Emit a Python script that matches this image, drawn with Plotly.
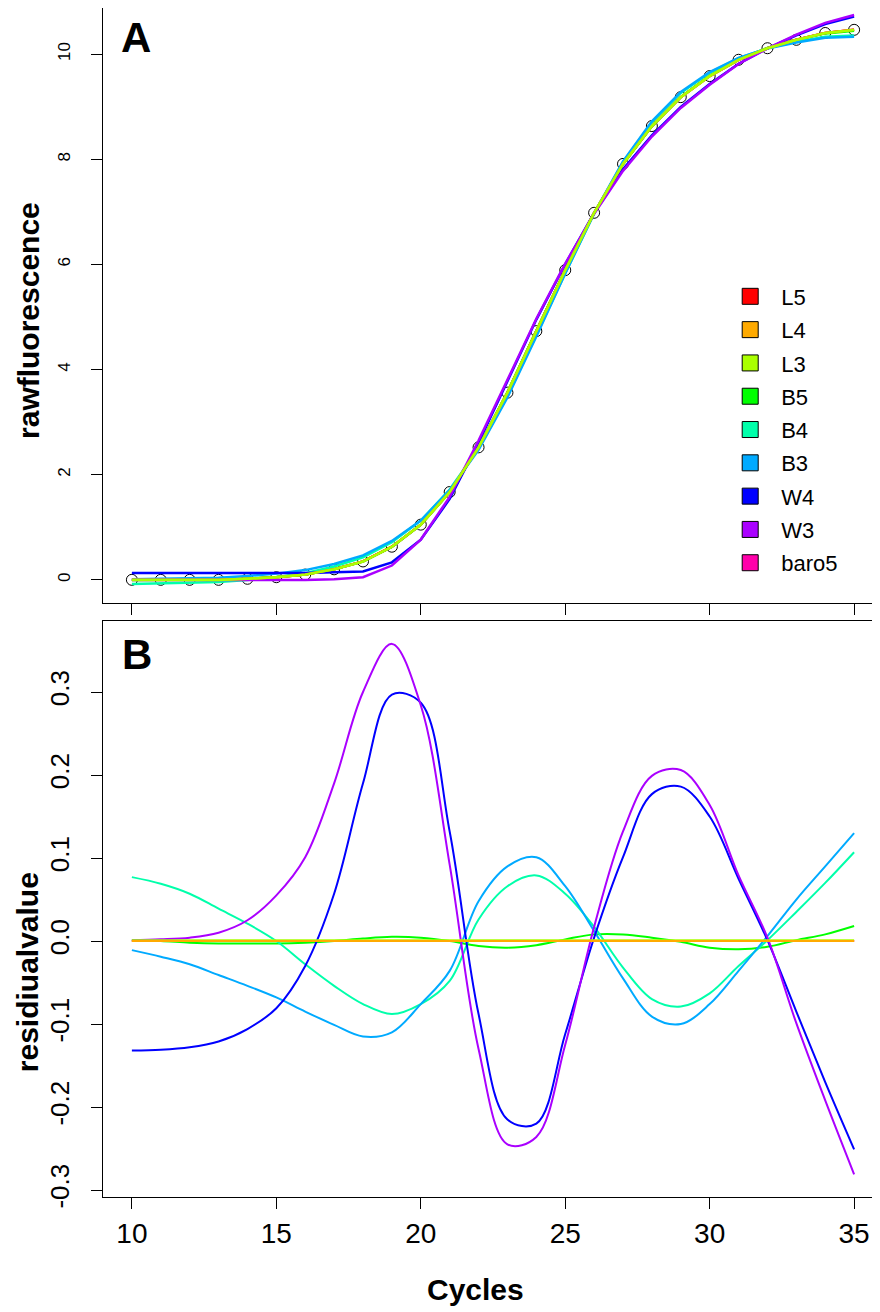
import plotly.graph_objects as go

# qPCR run: raw fluorescence per cycle and residuals of each sigmoidal model fit
cycles = list(range(10, 36))
raw_fluo = [0.00, 0.00, 0.00, 0.00, 0.02, 0.05, 0.10, 0.20, 0.35, 0.63, 1.05, 1.67, 2.52,
            3.56, 4.73, 5.89, 6.98, 7.91, 8.63, 9.18, 9.58, 9.89, 10.11, 10.27, 10.40, 10.46]

model_names = ["L5", "L4", "L3", "B5", "B4", "B3", "W4", "W3", "baro5"]
model_colors = ["#FF0000", "#FFAA00", "#AAFF00", "#00FF00", "#00FFAA",
                "#00AAFF", "#0000FF", "#AA00FF", "#FF00AA"]

res_L5 = [0.000, 0.000, 0.000, 0.000, 0.000, 0.000, 0.000, 0.000, 0.000, 0.000, 0.000, 0.000, 0.000,
          0.000, 0.000, 0.000, 0.000, 0.000, 0.000, 0.000, 0.000, 0.000, 0.000, 0.000, 0.000, 0.000]
res_L4 = [0.000, 0.000, 0.000, 0.000, 0.000, 0.000, 0.000, 0.000, 0.000, 0.000, 0.000, 0.000, 0.000,
          0.000, 0.000, 0.000, 0.000, 0.000, 0.000, 0.000, 0.000, 0.000, 0.000, 0.000, 0.000, 0.000]
res_L3 = [0.001, 0.001, 0.001, 0.001, 0.001, 0.001, 0.001, 0.001, 0.001, 0.001, 0.001, 0.001, 0.001,
          0.001, 0.001, 0.001, 0.001, 0.001, 0.001, 0.001, 0.001, 0.001, 0.001, 0.001, 0.001, 0.001]
res_B5 = [0.001, 0.000, -0.002, -0.003, -0.003, -0.003, -0.002, 0.000, 0.003, 0.005, 0.004, 0.000, -0.006,
          -0.008, -0.005, 0.002, 0.008, 0.008, 0.004, -0.001, -0.008, -0.010, -0.007, 0.001, 0.008, 0.018]
res_B4 = [0.077, 0.069, 0.057, 0.039, 0.021, 0.000, -0.028, -0.054, -0.076, -0.088, -0.076, -0.048, 0.026,
          0.066, 0.079, 0.057, 0.017, -0.032, -0.070, -0.079, -0.063, -0.030, 0.001, 0.035, 0.070, 0.107]
res_B3 = [-0.011, -0.019, -0.028, -0.041, -0.054, -0.068, -0.085, -0.101, -0.115, -0.110, -0.076, -0.036, 0.048,
          0.090, 0.101, 0.066, 0.012, -0.045, -0.091, -0.100, -0.076, -0.036, 0.006, 0.050, 0.090, 0.130]
res_W4 = [-0.132, -0.131, -0.128, -0.121, -0.106, -0.081, -0.030, 0.057, 0.190, 0.297, 0.287, 0.132, -0.088,
          -0.215, -0.220, -0.112, 0.004, 0.101, 0.177, 0.186, 0.150, 0.075, 0.001, -0.085, -0.170, -0.251]
res_W3 = [0.001, 0.002, 0.004, 0.010, 0.025, 0.055, 0.101, 0.190, 0.300, 0.358, 0.284, 0.092, -0.130,
          -0.245, -0.236, -0.125, 0.017, 0.132, 0.199, 0.206, 0.164, 0.079, 0.004, -0.099, -0.192, -0.281]
res_baro5 = [0.000, 0.000, 0.000, 0.000, 0.000, 0.000, 0.000, 0.000, 0.000, 0.000, 0.000, 0.000, 0.000,
             0.000, 0.000, 0.000, 0.000, 0.000, 0.000, 0.000, 0.000, 0.000, 0.000, 0.000, 0.000, 0.000]

residuals = {"L5": res_L5, "L4": res_L4, "L3": res_L3, "B5": res_B5, "B4": res_B4,
             "B3": res_B3, "W4": res_W4, "W3": res_W3, "baro5": res_baro5}

x_ticks = [10, 15, 20, 25, 30, 35]
raw_ticks = [0, 2, 4, 6, 8, 10]
res_ticks = [-0.3, -0.2, -0.1, 0.0, 0.1, 0.2, 0.3]
res_ticktext = ["-0.3", "-0.2", "-0.1", "0.0", "0.1", "0.2", "0.3"]

FONT = "Liberation Sans, Arial, sans-serif"
color_of = dict(zip(model_names, model_colors))
order_a = ["baro5", "L5", "B5", "B4", "B3", "W4", "W3", "L4", "L3"]
order_b = ["baro5", "L5", "B5", "B4", "B3", "W4", "W3", "L3", "L4"]

fig = go.Figure()

# panel A: observed points, then fitted curves (observed - residual)
fig.add_trace(go.Scatter(
    x=cycles, y=raw_fluo, mode="markers", xaxis="x2", yaxis="y2", showlegend=False,
    marker=dict(symbol="circle-open", size=11, color="black", line=dict(width=1))
))
for name in order_a:
    fitted = [r - e for r, e in zip(raw_fluo, residuals[name])]
    fig.add_trace(go.Scatter(
        x=cycles, y=fitted, mode="lines", xaxis="x2", yaxis="y2", showlegend=False,
        line=dict(color=color_of[name], width=2.5)
    ))

# panel B: residual curves
for name in order_b:
    fig.add_trace(go.Scatter(
        x=cycles, y=residuals[name], mode="lines", xaxis="x", yaxis="y", showlegend=False,
        line=dict(color=color_of[name], width=2, shape="spline", smoothing=1.0)
    ))

# legend entries (filled boxes)
for name in model_names:
    fig.add_trace(go.Scatter(
        x=[None], y=[None], mode="markers", name=name, legendgroup=name,
        xaxis="x2", yaxis="y2",
        marker=dict(symbol="square", size=18, color=color_of[name], line=dict(color="black", width=1))
    ))

axis_common = dict(showgrid=False, zeroline=False, showline=True, linecolor="black", linewidth=1,
                   ticks="outside", tickcolor="black", ticklen=11, automargin=False,
                   tickfont=dict(family=FONT, color="black"))

# page body adds an 8px offset, margins are set so the plot boxes land where the original has them
fig.update_layout(
    width=880, height=1312,
    margin=dict(l=95, r=5, t=0, b=123),
    paper_bgcolor="white", plot_bgcolor="white",
    font=dict(family=FONT, color="black"),
    xaxis=dict(axis_common, domain=[0, 1], range=[9, 36], anchor="y", mirror=True,
               tickvals=x_ticks, ticklabelstandoff=0,
               tickfont=dict(family=FONT, size=28, color="black")),
    yaxis=dict(axis_common, domain=[0, 0.4844], range=[-0.3084, 0.3855], anchor="x",
               tickvals=res_ticks, ticktext=res_ticktext, tickangle=-90, ticklabelstandoff=12,
               tickfont=dict(family=FONT, size=26, color="black")),
    xaxis2=dict(axis_common, domain=[0, 1], range=[9, 36], anchor="y2", mirror=True,
                tickvals=x_ticks, showticklabels=False),
    yaxis2=dict(axis_common, domain=[0.4996, 1], range=[-0.44, 10.875], anchor="x2",
                tickvals=raw_ticks, tickangle=-90, ticklabelstandoff=14,
                tickfont=dict(family=FONT, size=17, color="black")),
    legend=dict(x=0.79, y=0.775, xanchor="left", yanchor="top", bgcolor="rgba(0,0,0,0)",
                font=dict(family=FONT, size=22, color="black"), tracegroupgap=1.7,
                itemsizing="trace", itemwidth=52),
    showlegend=True,
)

panel_labels = [
    dict(text="<b>A</b>", x=0.021, y=0.975),
    dict(text="<b>B</b>", x=0.022, y=0.456),
]
for a in panel_labels:
    fig.add_annotation(xref="paper", yref="paper", xanchor="left", yanchor="middle", showarrow=False,
                       font=dict(family=FONT, size=42, color="black"), **a)

axis_titles = [
    dict(text="<b>rawfluorescence</b>", x=-0.0949, y=0.7376, textangle=-90),
    dict(text="<b>residiualvalue</b>", x=-0.0975, y=0.189, textangle=-90),
    dict(text="<b>Cycles</b>", x=0.478, y=-0.0782, textangle=0),
]
for a in axis_titles:
    fig.add_annotation(xref="paper", yref="paper", xanchor="center", yanchor="middle", showarrow=False,
                       font=dict(family=FONT, size=30, color="black"), **a)

fig.write_html("out.html")
